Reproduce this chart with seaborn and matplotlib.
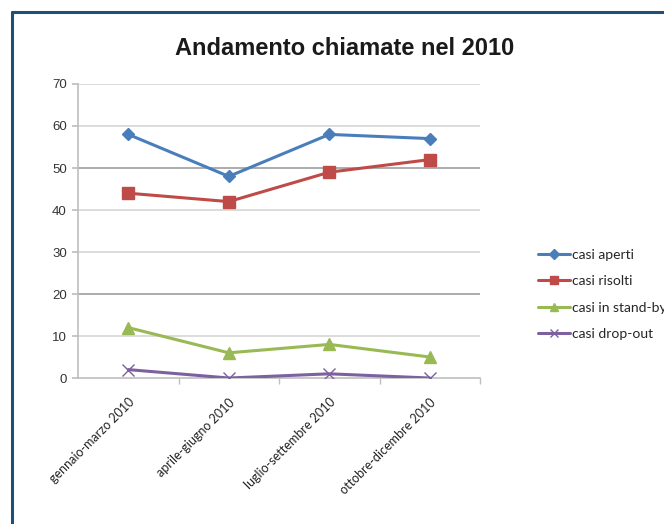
import matplotlib
matplotlib.use("Agg")
import matplotlib.pyplot as plt
from matplotlib.lines import Line2D
from matplotlib.ticker import FixedLocator
import seaborn as sns
import pandas as pd

periods = ["gennaio-marzo 2010", "aprile-giugno 2010",
           "luglio-settembre 2010", "ottobre-dicembre 2010"]
series_names = ["casi aperti", "casi risolti", "casi in stand-by", "casi drop-out"]
casi_aperti = [58, 48, 58, 57]
casi_risolti = [44, 42, 49, 52]
casi_standby = [12, 6, 8, 5]
casi_dropout = [2, 0, 1, 0]
y_ticks = [0, 10, 20, 30, 40, 50, 60, 70]

colors = ["#4a7ebb", "#be4b48", "#98b954", "#7d60a0"]
markers = ["D", "s", "^", "x"]
marker_sizes = [6, 8, 8, 8]

sns.set_theme(style="white")
plt.rcParams["font.family"] = ["Liberation Sans", "DejaVu Sans"]

fig = plt.figure(figsize=(6.64, 5.24), dpi=100)
fig.patch.set_facecolor("white")
ax = fig.add_axes([0.1175, 0.2786, 0.6055, 0.5611])

# horizontal gridlines
for t in y_ticks[1:]:
    gc = "#a6a6a6" if t in (20, 50) else "#d9d9d9"
    ax.axhline(t, color=gc, linewidth=1.3, zorder=0)

for name, vals, c, m, ms in zip(series_names,
                                [casi_aperti, casi_risolti, casi_standby, casi_dropout],
                                colors, markers, marker_sizes):
    df = pd.DataFrame({"periodo": range(len(periods)), "valore": vals})
    sns.lineplot(data=df, x="periodo", y="valore", color=c, marker=m,
                 markersize=ms, markeredgecolor=c, markeredgewidth=1.0,
                 linewidth=2.2, ax=ax, zorder=3)

ax.set_xlim(-0.5, 3.5)
ax.set_ylim(0, 70)
ax.set_yticks(y_ticks)
ax.set_yticklabels([str(t) for t in y_ticks], fontsize=9.5, color="#333333")

ax.set_xticks(range(len(periods)))
ax.set_xticklabels(periods, rotation=45, ha="right", rotation_mode="anchor",
                   fontsize=9, family=["Lato", "DejaVu Sans"], color="#222222")
ax.xaxis.set_minor_locator(FixedLocator([0.5, 1.5, 2.5, 3.5]))
ax.tick_params(axis="x", which="major", length=0, pad=13)
ax.tick_params(axis="x", which="minor", length=4, color="#bfbfbf", direction="out", bottom=True)
ax.tick_params(axis="y", length=4, color="#bfbfbf", direction="out", left=True, pad=4)
ax.set_xlabel("")
ax.set_ylabel("")
for s in ["top", "right"]:
    ax.spines[s].set_visible(False)
for s in ["left", "bottom"]:
    ax.spines[s].set_color("#bfbfbf")
    ax.spines[s].set_linewidth(1.2)
ax.set_facecolor("white")

fig.text(0.5195, 0.907, "Andamento chiamate nel 2010", ha="center", va="center",
         fontsize=17, fontweight="bold", color="#1a1a1a")

handles = [Line2D([0], [0], color=c, marker=m, linewidth=2.2, markersize=ms * 0.8,
                  markeredgecolor=c, markeredgewidth=1.0)
           for c, m, ms in zip(colors, markers, marker_sizes)]
fig.legend(handles, series_names, loc="center left",
           bbox_to_anchor=(0.810, 0.438), frameon=False,
           prop={"family": ["Lato", "DejaVu Sans"], "size": 10},
           handlelength=2.3, handletextpad=0.15, labelspacing=1.04,
           borderaxespad=0, borderpad=0)

# frame around the chart area
fig.add_artist(Line2D([0.0188, 0.0188], [0.0, 0.9765], transform=fig.transFigure,
                      color="#1f4e79", linewidth=2.2))
fig.add_artist(Line2D([0.0188, 1.0], [0.9765, 0.9765], transform=fig.transFigure,
                      color="#1f4e79", linewidth=2.2))

fig.savefig("out.png", dpi=100, facecolor="white")
